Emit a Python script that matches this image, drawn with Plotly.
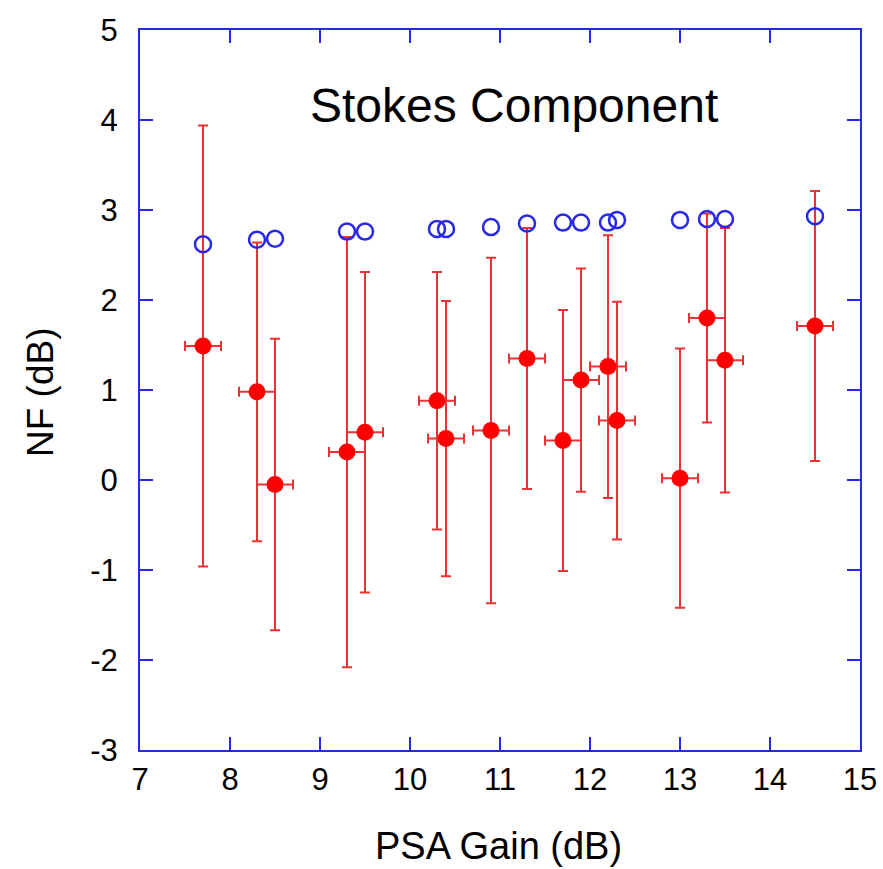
import plotly.graph_objects as go

# PSA gain (dB) for each measurement
gain = [7.7, 8.3, 8.5, 9.3, 9.5, 10.3, 10.4, 10.9, 11.3, 11.7, 11.9, 12.2, 12.3, 13.0, 13.3, 13.5, 14.5]
# Measured NF (dB), Stokes component
nf_measured = [1.49, 0.98, -0.05, 0.31, 0.53, 0.88, 0.46, 0.55, 1.35, 0.44, 1.11, 1.26, 0.66, 0.02, 1.80, 1.33, 1.71]
# NF error bar (+/- dB)
nf_error = [2.45, 1.66, 1.62, 2.39, 1.78, 1.43, 1.53, 1.92, 1.45, 1.45, 1.24, 1.46, 1.32, 1.44, 1.16, 1.47, 1.50]
# Gain error bar (+/- dB)
gain_error = [0.2] * 17
# Theoretical / reference NF (dB)
nf_reference = [2.62, 2.67, 2.68, 2.76, 2.76, 2.79, 2.79, 2.81, 2.85, 2.86, 2.86, 2.86, 2.89, 2.89, 2.90, 2.90, 2.93]

x_ticks = [7, 8, 9, 10, 11, 12, 13, 14, 15]
y_ticks = [-3, -2, -1, 0, 1, 2, 3, 4, 5]

FONT = "Liberation Sans, Arial, sans-serif"
AXIS_BLUE = "rgb(40,40,235)"
RED = "rgb(255,0,0)"
BAR_RED = "rgb(235,50,50)"

fig = go.Figure()

fig.add_trace(go.Scatter(
    x=gain, y=nf_measured, mode="markers",
    marker=dict(symbol="circle", size=17, color=RED, line=dict(width=0)),
    error_y=dict(type="data", array=nf_error, visible=True, color=BAR_RED, thickness=2, width=5),
    error_x=dict(type="data", array=gain_error, visible=True, color=BAR_RED, thickness=2, width=5),
    showlegend=False,
))

fig.add_trace(go.Scatter(
    x=gain, y=nf_reference, mode="markers",
    marker=dict(symbol="circle-open", size=16, color=AXIS_BLUE, line=dict(width=2.5, color=AXIS_BLUE)),
    showlegend=False,
))

axis_common = dict(
    showgrid=False, zeroline=False, automargin=False,
    showline=True, linecolor=AXIS_BLUE, linewidth=2, mirror="ticks",
    ticks="inside", ticklen=13, tickwidth=2, tickcolor=AXIS_BLUE,
    tickfont=dict(family=FONT, size=31, color="black"),
)

fig.update_xaxes(range=[7, 15], tickvals=x_ticks, ticktext=[str(v) for v in x_ticks],
                 ticklabelstandoff=1, **axis_common)
fig.update_yaxes(range=[-3, 5], tickvals=y_ticks, ticktext=[str(v) for v in y_ticks],
                 ticklabelstandoff=14, **axis_common)

fig.add_annotation(text="Stokes Component", xref="paper", yref="paper",
                   x=(514 - 140) / 720, y=(750 - 106) / 720, xanchor="center", yanchor="middle",
                   showarrow=False, font=dict(family=FONT, size=48, color="black"))
fig.add_annotation(text="NF (dB)", xref="paper", yref="paper",
                   x=(40 - 140) / 720, y=(750 - 392) / 720, xanchor="center", yanchor="middle",
                   textangle=-90, showarrow=False, font=dict(family=FONT, size=37, color="black"))
fig.add_annotation(text="PSA Gain (dB)", xref="paper", yref="paper",
                   x=(498 - 140) / 720, y=(750 - 846) / 720, xanchor="center", yanchor="middle",
                   showarrow=False, font=dict(family=FONT, size=38, color="black"))

fig.update_layout(
    width=883, height=869,
    margin=dict(l=140, r=23, t=30, b=119),
    plot_bgcolor="white", paper_bgcolor="white",
)

fig.write_html("out.html", config={"displayModeBar": False},
               post_script="document.body.style.margin='0px';document.body.style.overflow='hidden';")
